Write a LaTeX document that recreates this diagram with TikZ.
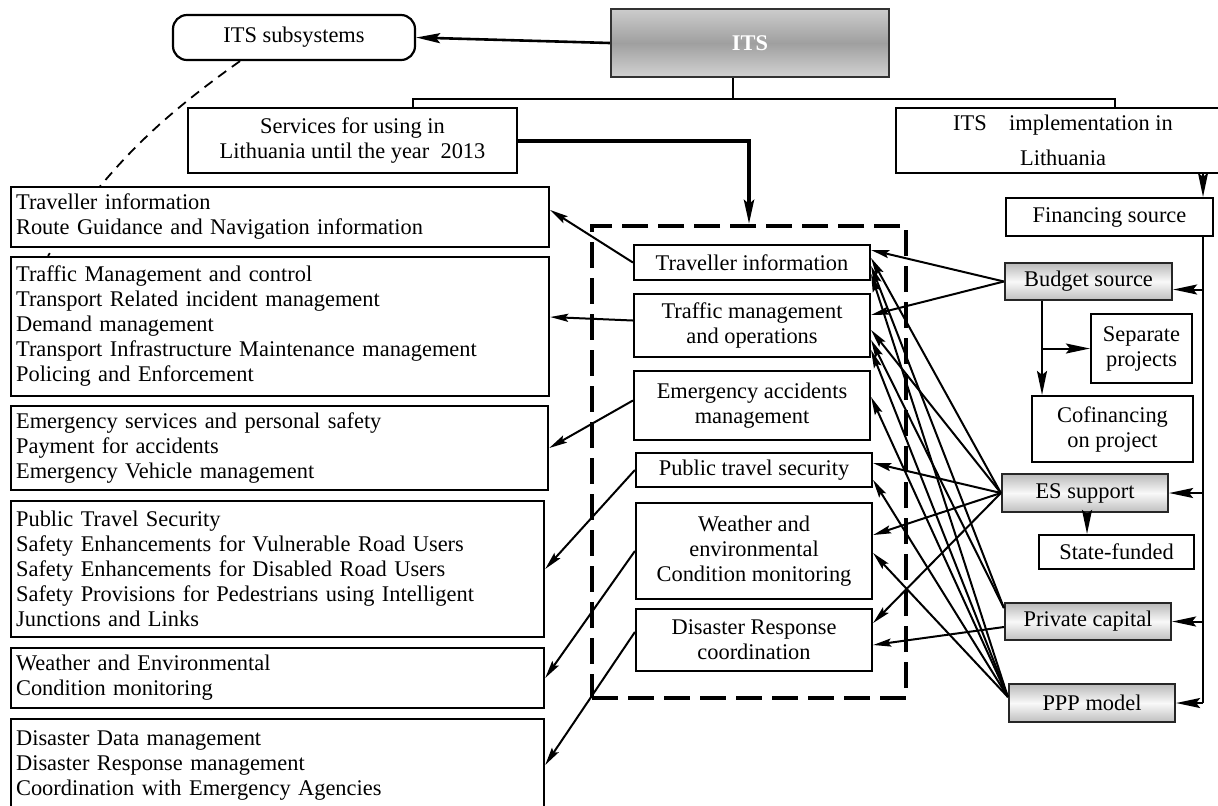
\documentclass[tikz,border=0pt]{standalone}
\usepackage{fontspec}
\setmainfont{Liberation Serif}
\usetikzlibrary{arrows.meta,backgrounds}
\tikzstyle{bx}=[draw=black,line width=1.1pt,fill=white,align=center,inner sep=2pt]
\tikzstyle{lbx}=[draw=black,line width=1.1pt,fill=white,align=left,inner xsep=2.5pt,inner ysep=1pt,anchor=west]
\tikzstyle{gbx}=[draw=black!85,top color=gray!55,bottom color=gray!50,middle color=gray!5]
\tikzstyle{ar}=[line width=1pt,-{Stealth[length=9pt,width=4pt,inset=1.5pt]}]
\tikzstyle{bar}=[line width=1pt,-{Stealth[length=12pt,width=5pt,inset=2pt]}]

\begin{document}
\begin{tikzpicture}[x=0.5pt,y=-0.5pt,font=\fontsize{11.2pt}{12.5pt}\selectfont]
\useasboundingbox (0,0) rectangle (1218,805);
% top level
\node[bx,minimum width=139pt,minimum height=34pt,draw=black!80,top color=gray!40,bottom color=gray!35,middle color=gray!75,text=white,font=\fontsize{11.2pt}{12.5pt}\selectfont\bfseries] (its) at (750,43) {ITS};
\node[bx,rounded corners=7pt,minimum width=121pt,minimum height=22.5pt] (subs) at (294,37.5) {ITS subsystems};
\node[bx,minimum width=164.5pt,minimum height=32.5pt] (serv) at (352.5,140.5) {Services for using in\\Lithuania until the year\ \ 2013};
\node[bx,minimum width=167pt,minimum height=32.5pt] (impl) at (1063,140.5) {ITS\quad implementation in\\[5pt]Lithuania};
% financing
\node[bx,minimum width=103.5pt,minimum height=19pt] (fin) at (1109.5,217) {Financing source};
\node[bx,gbx,minimum width=83.5pt,minimum height=18.5pt] (bud) at (1088.5,281.5) {Budget source};
\node[bx,minimum width=50.5pt,minimum height=34.5pt] (sep) at (1141.5,348.5) {Separate\\projects};
\node[bx,minimum width=80.5pt,minimum height=33pt] (cof) at (1112.5,429) {Cofinancing\\on project};
\node[bx,gbx,minimum width=83pt,minimum height=19pt] (es) at (1085,493) {ES support};
\node[bx,minimum width=77.5pt,minimum height=17pt] (sta) at (1116.5,552) {State-funded};
\node[bx,gbx,minimum width=83pt,minimum height=18.5pt] (pri) at (1088,621.5) {Private capital};
\node[bx,gbx,minimum width=83pt,minimum height=19pt] (ppp) at (1092,703) {PPP model};
% services group
\node[draw=black,line width=2pt,dash pattern=on 13pt off 5pt,minimum width=157pt,minimum height=236pt,inner sep=0pt] (grp) at (749,462) {};
\node[bx,minimum width=118pt,minimum height=17.5pt] (trav) at (752,262.5) {Traveller information};
\node[bx,minimum width=118pt,minimum height=31.5pt] (traf) at (752,325.5) {Traffic management\\and operations};
\node[bx,minimum width=118pt,minimum height=34.5pt] (emer) at (752,405.5) {Emergency accidents\\management};
\node[bx,minimum width=118pt,minimum height=17pt] (pub) at (754,470) {Public travel security};
\node[bx,minimum width=118pt,minimum height=48pt] (wea) at (754,551) {Weather and\\environmental\\Condition monitoring};
\node[bx,minimum width=118pt,minimum height=31pt] (dis) at (754,640) {Disaster Response\\coordination};
% subsystems
\node[lbx,text width=264pt,minimum height=30pt] (l1) at (10,217) {Traveller information\\Route Guidance and Navigation information};
\node[lbx,text width=264pt,minimum height=69.5pt] (l2) at (10,326.5) {Traffic Management and control\\Transport Related incident management\\Demand management\\Transport Infrastructure Maintenance management\\Policing and Enforcement};
\node[lbx,text width=263.5pt,minimum height=42pt] (l3) at (10,448) {Emergency services and personal safety\\Payment for accidents\\Emergency Vehicle management};
\node[lbx,text width=261.5pt,minimum height=68pt] (l4) at (10,569) {Public Travel Security\\Safety Enhancements for Vulnerable Road Users\\Safety Enhancements for Disabled Road Users\\Safety Provisions for Pedestrians using Intelligent\\Junctions and Links};
\node[lbx,text width=261.5pt,minimum height=30pt] (l5) at (10,678) {Weather and Environmental\\Condition monitoring};
\node[lbx,text width=261.5pt,minimum height=46pt] (l6) at (10,765) {Disaster Data management\\Disaster Response management\\Coordination with Emergency Agencies};

% tree lines
\coordinate (hub) at (733,99);
\coordinate (brl) at (413,99);
\coordinate (brr) at (1115,99);
\draw[bar,line width=1.3pt] (its.west) -- (subs.east);
\draw[line width=0.9pt] (its.south -| hub) -- (hub);
\draw[line width=0.8pt] (brl |- serv.north) -- (brl) -- (brr) -- (brr |- impl.north);
\draw[line width=2pt,-{Stealth[length=12pt,width=5pt,inset=2pt]}] (serv.east) -| (grp.north);
\begin{scope}[on background layer]
\draw[line width=0.9pt,dash pattern=on 5pt off 3.5pt] ([xshift=-27pt]subs.south) to[bend right=10] ([xshift=19pt]l2.north west);
\end{scope}

% financing rail
\coordinate (rail) at (1203,0);
\coordinate (bude) at ([yshift=-4pt]bud.east);
\draw[bar] (impl.south -| rail) -- (fin.north -| rail);
\draw[line width=0.9pt] (fin.south -| rail) -- (rail |- ppp.east);
\draw[bar] (bude -| rail) -- (bude);
\draw[bar] (rail |- es.east) -- (es.east);
\draw[bar] (rail |- pri.east) -- (pri.east);
\draw[bar] (rail |- ppp.east) -- (ppp.east);
\coordinate (bdrop) at (1042,0);
\draw[bar] (bud.south -| bdrop) -- (cof.north -| bdrop);
\draw[bar] (bdrop |- sep.west) -- (sep.west);
\coordinate (edrop) at (1087,0);
\draw[bar] (es.south -| edrop) -- (sta.north -| edrop);

% services -> subsystems
\draw[ar] (trav.west) -- ([yshift=3.5pt]l1.east);
\draw[ar] ([yshift=2.5pt]traf.west) -- ([yshift=4.75pt]l2.east);
\draw[ar] ([yshift=2.5pt]emer.west) -- (l3.east);
\draw[ar] (pub.west) -- (l4.east);
\draw[ar] (wea.west) -- (l5.east);
\draw[ar] ([yshift=4pt]dis.west) -- (l6.east);

% sources -> services
\coordinate (ps) at ([yshift=6.75pt]pri.west);
\coordinate (qs) at ([yshift=3pt]ppp.west);
\draw[ar] (bud.west) -- ([yshift=6.25pt]trav.east);
\draw[ar] (bud.west) -- ([yshift=5.25pt]traf.east);
\draw[ar] (es.west) -- ([yshift=2.25pt]trav.east);
\draw[ar] (es.west) -- ([yshift=-2.25pt]traf.east);
\draw[ar] (es.west) -- ([yshift=3.5pt]pub.east);
\draw[ar] (es.west) -- ([yshift=8pt]wea.east);
\draw[ar] (es.west) -- ([yshift=8.5pt]dis.east);
\draw[ar] (ps) -- ([yshift=-1.75pt]trav.east);
\draw[ar] (ps) -- ([yshift=-7.25pt]traf.east);
\draw[ar] ([yshift=-2.75pt]pri.west) -- ([yshift=-2.5pt]dis.east);
\draw[ar] (qs) -- ([yshift=-5.75pt]trav.east);
\draw[ar] (qs) -- ([yshift=-12.25pt]traf.east);
\draw[ar] (qs) -- ([yshift=4.25pt]emer.east);
\draw[ar] (qs) -- ([yshift=-5pt]pub.east);
\draw[ar] (qs) -- ([yshift=-1pt]wea.east);
\end{tikzpicture}
\end{document}
